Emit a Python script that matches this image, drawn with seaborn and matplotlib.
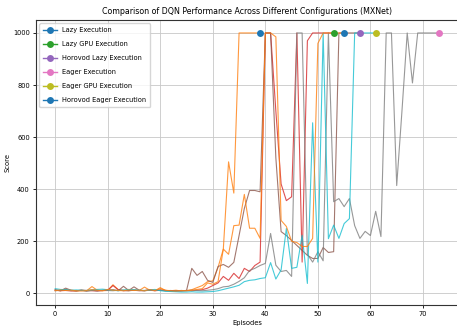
import numpy as np
import pandas as pd
import matplotlib
matplotlib.use("Agg")
import matplotlib.pyplot as plt
import seaborn as sns

configs = ["Lazy Execution", "Lazy GPU Execution", "Horovod Lazy Execution",
           "Eager Execution", "Eager GPU Execution", "Horovod Eager Execution"]

lazy = [12, 10, 14, 11, 9, 12, 10, 26, 12, 10, 11, 33, 14, 12, 10, 13, 11, 24, 12, 10,
        22, 11, 10, 12, 9, 11, 14, 22, 30, 45, 48, 100, 170, 505, 385, 1000, 1000, 1000, 1000, 1000]

lazy_gpu = [12, 10, 11, 9, 10, 12, 11, 10, 9, 11, 12, 30, 14, 10, 11, 12, 10, 11, 13, 10,
            12, 11, 10, 9, 10, 11, 10, 12, 14, 20, 30, 40, 65, 50, 77, 57, 96, 84, 107, 120,
            1000, 1000, 700, 420, 356, 371, 1000, 120, 970, 1000, 1000, 1000, 1000, 1000]

horovod_lazy = [14, 10, 20, 12, 10, 11, 9, 12, 10, 11, 12, 14, 10, 27, 11, 25, 12, 10, 13, 11,
                12, 10, 11, 9, 10, 11, 96, 69, 84, 50, 42, 103, 111, 100, 119, 222, 326, 395, 395, 390,
                1000, 1000, 520, 237, 222, 203, 184, 165, 146, 134, 134, 176, 157, 160, 1000, 1000, 1000, 1000, 1000]

eager = [10, 12, 15, 11, 10, 12, 9, 11, 10, 12, 11, 10, 12, 11, 10, 12, 11, 10, 12, 11,
         13, 10, 9, 10, 11, 10, 12, 11, 10, 12, 14, 18, 25, 27, 35, 46, 60, 88, 96, 107,
         115, 230, 108, 84, 88, 65, 1000, 1000, 150, 120, 160, 125, 1000, 352, 364, 333, 364, 260, 211, 238,
         222, 315, 218, 1000, 1000, 414, 700, 1000, 808, 1000, 1000, 1000, 1000, 1000]

eager_gpu = [18, 15, 14, 12, 13, 12, 11, 14, 15, 16, 14, 12, 10, 13, 15, 14, 12, 11, 13, 15,
             10, 8, 7, 6, 5, 5, 6, 5, 5, 6, 7, 10, 15, 20, 25, 31, 45, 50, 52, 57,
             60, 118, 55, 90, 249, 96, 100, 223, 38, 655, 120, 1000, 210, 262, 211, 268, 287, 1000, 1000, 1000,
             1000, 1000]

horovod_eager = [10, 13, 11, 12, 10, 9, 11, 14, 12, 10, 15, 12, 11, 10, 13, 11, 12, 10, 14, 11,
                 18, 12, 10, 9, 11, 10, 12, 15, 18, 40, 35, 45, 170, 150, 260, 262, 380, 250, 250, 211,
                 1000, 1000, 985, 280, 257, 200, 195, 180, 180, 211, 960, 1000, 1000, 1000, 1000, 1000]

series = [lazy, lazy_gpu, horovod_lazy, eager, eager_gpu, horovod_eager]

pal = sns.color_palette("tab10", 10)

fig = plt.figure(figsize=(4.57, 3.30), dpi=100)
ax = fig.add_axes([36 / 457, 25 / 330, 1.002 - 36 / 457, 285 / 330])

for i, (name, vals) in enumerate(zip(configs, series)):
    eps = np.arange(len(vals))
    df = pd.DataFrame({"Episodes": eps, "Score": vals})
    mcol = pal[(2 * i) % 10]
    lcol = pal[(2 * i + 1) % 10]
    sns.lineplot(data=df, x="Episodes", y="Score", color=lcol, linewidth=0.8,
                 alpha=0.8, ax=ax, zorder=2)
    last = df.iloc[[-1]]
    sns.lineplot(data=last, x="Episodes", y="Score", color=mcol, marker="o",
                 markersize=5, markeredgewidth=0, linewidth=1.0, label=name,
                 ax=ax, zorder=4)

ax.grid(True, color="#c8c8c8", linewidth=0.6)
ax.set_axisbelow(True)
ax.set_title("Comparison of DQN Performance Across Different Configurations (MXNet)",
             fontsize=5.7, pad=4)
ax.set_xlabel("Episodes", fontsize=4.9, labelpad=2)
ax.set_ylabel("Score", fontsize=4.9, labelpad=2)
ax.tick_params(labelsize=4.8, length=2.5, width=0.6, pad=2)
ax.set_xticks([0, 10, 20, 30, 40, 50, 60, 70])
ax.set_yticks([0, 200, 400, 600, 800, 1000])
for s in ax.spines.values():
    s.set_linewidth(0.8)
    s.set_color("#333333")
leg = ax.legend(loc="upper left", fontsize=4.8, handlelength=2.0, borderpad=0.6,
                labelspacing=1.2, handletextpad=0.8, framealpha=0.8)
fig.savefig("out.png", dpi=100)
